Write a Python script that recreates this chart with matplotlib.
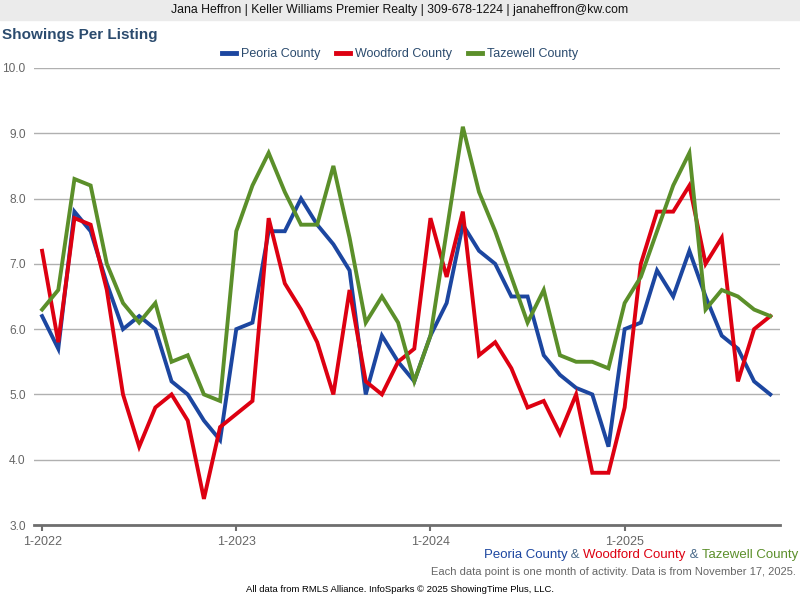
import matplotlib
matplotlib.use("Agg")
import matplotlib.pyplot as plt
from matplotlib.patches import Rectangle

plt.rcParams['font.family'] = ['Liberation Sans', 'DejaVu Sans']

# monthly values, 1-2022 .. 10-2025
peoria = [6.2, 5.7, 7.8, 7.5, 6.7, 6.0, 6.2, 6.0, 5.2, 5.0, 4.6, 4.3,
          6.0, 6.1, 7.5, 7.5, 8.0, 7.6, 7.3, 6.9, 5.0, 5.9, 5.5, 5.2,
          5.9, 6.4, 7.6, 7.2, 7.0, 6.5, 6.5, 5.6, 5.3, 5.1, 5.0, 4.2,
          6.0, 6.1, 6.9, 6.5, 7.2, 6.5, 5.9, 5.7, 5.2, 5.0]
woodford = [7.2, 5.8, 7.7, 7.6, 6.6, 5.0, 4.2, 4.8, 5.0, 4.6, 3.4, 4.5,
            4.7, 4.9, 7.7, 6.7, 6.3, 5.8, 5.0, 6.6, 5.2, 5.0, 5.5, 5.7,
            7.7, 6.8, 7.8, 5.6, 5.8, 5.4, 4.8, 4.9, 4.4, 5.0, 3.8, 3.8,
            4.8, 7.0, 7.8, 7.8, 8.2, 7.0, 7.4, 5.2, 6.0, 6.2]
tazewell = [6.3, 6.6, 8.3, 8.2, 7.0, 6.4, 6.1, 6.4, 5.5, 5.6, 5.0, 4.9,
            7.5, 8.2, 8.7, 8.1, 7.6, 7.6, 8.5, 7.4, 6.1, 6.5, 6.1, 5.2,
            5.9, 7.5, 9.1, 8.1, 7.5, 6.8, 6.1, 6.6, 5.6, 5.5, 5.5, 5.4,
            6.4, 6.8, 7.5, 8.2, 8.7, 6.3, 6.6, 6.5, 6.3, 6.2]
series_names = ['Peoria County', 'Woodford County', 'Tazewell County']
series_colors = ['#1c46a0', '#dd0011', '#5b8f2a']
tick_pos = [0, 12, 24, 36]
tick_labels = ['1-2022', '1-2023', '1-2024', '1-2025']
y_ticks = [3.0, 4.0, 5.0, 6.0, 7.0, 8.0, 9.0, 10.0]

months = list(range(len(peoria)))

fig = plt.figure(figsize=(8, 6), dpi=100)
ax = fig.add_axes([34 / 800, 1 - 525 / 600, (780 - 34) / 800, (525 - 68) / 600])

for vals, name, col in zip([peoria, woodford, tazewell], series_names, series_colors):
    ax.plot(months, vals, color=col, lw=2.8, label=name, solid_joinstyle='miter')

ax.set_xlim(-0.5, 45.6)
ax.set_ylim(3.0, 10.0)
ax.set_yticks(y_ticks)
ax.set_yticklabels(['%.1f' % v for v in y_ticks])
ax.set_xticks(tick_pos)
ax.set_xticklabels(tick_labels)
ax.grid(axis='y', color='#b0b0b0', lw=1)
ax.set_axisbelow(True)
for s in ['top', 'right', 'left']:
    ax.spines[s].set_visible(False)
ax.spines['bottom'].set_color('#6e6e6e')
ax.spines['bottom'].set_linewidth(2)
ax.tick_params(axis='y', length=0, pad=6, labelsize=8.6, labelcolor='#666666')
ax.tick_params(axis='x', length=4, width=1.5, color='#6e6e6e', pad=4,
               labelsize=9, labelcolor='#666666')

# header bar
fig.patches.append(Rectangle((0, 1 - 20 / 600), 1, 20 / 600, transform=fig.transFigure,
                             color='#ebebeb', zorder=0))
fig.text(0.5, 1 - 10 / 600, 'Jana Heffron | Keller Williams Premier Realty | 309-678-1224 | janaheffron@kw.com',
         ha='center', va='center', fontsize=8.8, color='#111111')
fig.text(2 / 800, 1 - 35 / 600, 'Showings Per Listing', ha='left', va='center',
         fontsize=11, fontweight='bold', color='#2b4b6e')

leg = fig.legend(loc='center', bbox_to_anchor=(0.5, 1 - 54 / 600), ncol=3, frameon=False,
                 fontsize=9, handlelength=1.1, handletextpad=0.4, columnspacing=1.3)
for t in leg.get_texts():
    t.set_color('#2b4b6e')
for h in leg.get_lines():
    h.set_linewidth(3.5)

# bottom-right coloured line, drawn right to left
fig.canvas.draw()
r = fig.canvas.get_renderer()
parts = [('Peoria County', series_colors[0]), (' & ', '#4a6a8a'),
         ('Woodford County', series_colors[1]), (' & ', '#4a6a8a'),
         ('Tazewell County', series_colors[2])]
x = 798
for txt, col in reversed(parts):
    t = fig.text(x / 800, 1 - 555 / 600, txt, ha='right', va='center', fontsize=9.5, color=col)
    bb = t.get_window_extent(r)
    x -= bb.width
fig.text(796 / 800, 1 - 572 / 600,
         'Each data point is one month of activity. Data is from November 17, 2025.',
         ha='right', va='center', fontsize=8, color='#666666')
fig.text(0.5, 1 - 590 / 600, 'All data from RMLS Alliance. InfoSparks \u00a9 2025 ShowingTime Plus, LLC.',
         ha='center', va='center', fontsize=6.8, color='#000000')

fig.savefig('out.png', dpi=100)
